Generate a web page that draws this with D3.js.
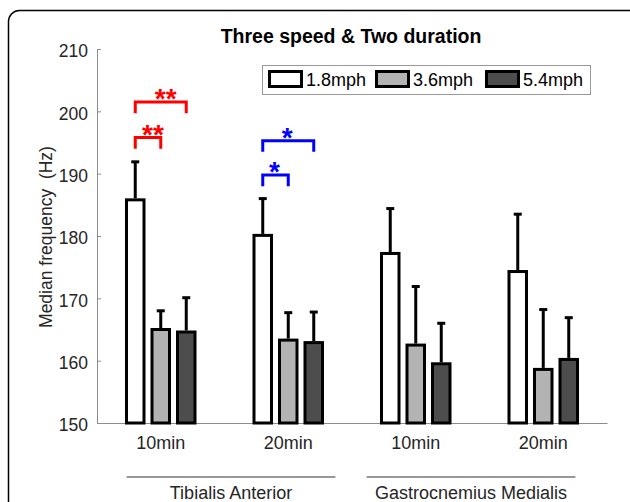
<!DOCTYPE html>
<html>
<head>
<meta charset="utf-8">
<script src="https://cdn.jsdelivr.net/npm/d3@7"></script>
<style>
  body { margin: 0; background: #fff; }
  text { font-family: "Liberation Sans", Arial, sans-serif; }
</style>
</head>
<body>
<svg id="chart" width="630" height="502"></svg>
<script>
const groups = ["TA-10", "TA-20", "GM-10", "GM-20"];
const groupLabels = ["10min", "20min", "10min", "20min"];
const muscles = ["Tibialis Anterior", "Gastrocnemius Medialis"];
const speeds = ["1.8mph", "3.6mph", "5.4mph"];
const colors = ["#ffffff", "#b3b3b3", "#4d4d4d"];

// median frequency (Hz) per group, per speed
const means = [
  [185.8, 165.0, 164.6],
  [180.1, 163.3, 162.9],
  [177.2, 162.5, 159.5],
  [174.3, 158.6, 160.2],
];
const errTops = [
  [191.9, 168.0, 170.1],
  [186.0, 167.7, 167.8],
  [184.4, 171.9, 166.0],
  [183.5, 168.2, 166.9],
];

// significance brackets: group index, from speed, to speed, level (Hz), label, color
const brackets = [
  { g: 0, from: 0, to: 1, level: 195.8, label: "**", color: "#ff0000" },
  { g: 0, from: 0, to: 2, level: 201.5, label: "**", color: "#ff0000" },
  { g: 1, from: 0, to: 1, level: 189.8, label: "*", color: "#0000ff" },
  { g: 1, from: 0, to: 2, level: 195.3, label: "*", color: "#0000ff" },
];
const yTicks = [150, 160, 170, 180, 190, 200, 210];

const svg = d3.select("#chart");

// outer frame
svg.append("rect")
  .attr("x", 8.5).attr("y", 10.5)
  .attr("width", 640).attr("height", 540)
  .attr("rx", 11)
  .attr("fill", "none")
  .attr("stroke", "#000")
  .attr("stroke-width", 1.5);

const x = d3.scaleBand().domain(groups).range([97, 607]);
const xSub = d3.scaleBand().domain(speeds).range([-34.25, 34.25])
  .paddingInner(0.3137).paddingOuter(0);
const y = d3.scaleLinear().domain([150, 210]).range([423, 49]);

const textColor = "#262626";
const axisColor = "#8c8c8c";

// y axis
const yAxis = svg.append("g")
  .attr("transform", "translate(97,0)")
  .call(d3.axisLeft(y).tickValues(yTicks).tickSizeInner(-4).tickSizeOuter(0).tickPadding(9));
yAxis.select(".domain").attr("stroke", axisColor);
yAxis.selectAll(".tick line").attr("stroke", axisColor);
yAxis.selectAll(".tick text")
  .attr("fill", textColor)
  .attr("font-size", 17.5)
  .attr("dy", "0.45em");

// x axis
const xAxis = svg.append("g")
  .attr("transform", "translate(0,423)")
  .call(d3.axisBottom(x).tickSize(0).tickPadding(13.5).tickFormat((d, i) => groupLabels[i]));
xAxis.select(".domain").attr("stroke", axisColor);
xAxis.selectAll(".tick text")
  .attr("fill", textColor)
  .attr("font-size", 18);

// bars
const data = [];
groups.forEach((g, gi) => {
  speeds.forEach((s, si) => {
    data.push({ g, s, si, v: means[gi][si], e: errTops[gi][si] });
  });
});

const barG = svg.append("g");
barG.selectAll("rect")
  .data(data)
  .join("rect")
  .attr("x", (d) => x(d.g) + x.bandwidth() / 2 + xSub(d.s))
  .attr("y", (d) => y(d.v))
  .attr("width", xSub.bandwidth())
  .attr("height", (d) => y(150) - y(d.v))
  .attr("fill", (d) => colors[d.si])
  .attr("stroke", "#000")
  .attr("stroke-width", 3);

const cx = (d) => x(d.g) + x.bandwidth() / 2 + xSub(d.s) + xSub.bandwidth() / 2;

barG.selectAll("line.err")
  .data(data)
  .join("line")
  .attr("class", "err")
  .attr("x1", cx).attr("x2", cx)
  .attr("y1", (d) => y(d.v) - 1.5)
  .attr("y2", (d) => y(d.e))
  .attr("stroke", "#000")
  .attr("stroke-width", 3);

barG.selectAll("line.cap")
  .data(data)
  .join("line")
  .attr("class", "cap")
  .attr("x1", (d) => cx(d) - 4).attr("x2", (d) => cx(d) + 4)
  .attr("y1", (d) => y(d.e)).attr("y2", (d) => y(d.e))
  .attr("stroke", "#000")
  .attr("stroke-width", 3);

// significance brackets
const subCenter = (gi, si) =>
  x(groups[gi]) + x.bandwidth() / 2 + xSub(speeds[si]) + xSub.bandwidth() / 2;

const br = svg.append("g").selectAll("g").data(brackets).join("g");
br.append("path")
  .attr("fill", "none")
  .attr("stroke", (d) => d.color)
  .attr("stroke-width", 3)
  .attr("d", (d) => {
    const x1 = subCenter(d.g, d.from), x2 = subCenter(d.g, d.to);
    const top = y(d.level), bot = y(d.level - 1.8);
    return `M${x1},${bot}V${top}H${x2}V${bot}`;
  });
br.append("text")
  .attr("x", (d) => (subCenter(d.g, d.from) + subCenter(d.g, d.to)) / 2 + (d.label.length > 1 ? 5 : -1))
  .attr("y", (d) => y(d.level) + 6)
  .attr("text-anchor", "middle")
  .attr("font-size", 28)
  .attr("font-weight", "bold")
  .attr("fill", (d) => d.color)
  .text((d) => d.label);

// muscle group lines and labels
const m = d3.scaleBand().domain(muscles).range([111, 591]).paddingInner(0.13).paddingOuter(0.065);
const mg = svg.append("g").selectAll("g").data(muscles).join("g");
mg.append("line")
  .attr("x1", (d) => m(d)).attr("x2", (d) => m(d) + m.bandwidth())
  .attr("y1", 477).attr("y2", 477)
  .attr("stroke", "#333")
  .attr("stroke-width", 1.2);
mg.append("text")
  .attr("x", (d) => m(d) + m.bandwidth() / 2)
  .attr("y", 499)
  .attr("text-anchor", "middle")
  .attr("font-size", 18)
  .attr("fill", textColor)
  .text((d) => d);

// y label
svg.append("text")
  .attr("transform", "translate(52,237) rotate(-90)")
  .attr("text-anchor", "middle")
  .attr("font-size", 17.5)
  .attr("fill", textColor)
  .style("white-space", "pre")
  .text("Median frequency  (Hz)");

// title
svg.append("text")
  .attr("x", 351)
  .attr("y", 42.5)
  .attr("text-anchor", "middle")
  .attr("font-size", 19.5)
  .attr("font-weight", "bold")
  .attr("fill", "#000")
  .text("Three speed & Two duration");

// legend
const legend = svg.append("g");
legend.append("rect")
  .attr("x", 262.5).attr("y", 65.5)
  .attr("width", 328).attr("height", 29)
  .attr("fill", "#fff")
  .attr("stroke", "#999")
  .attr("stroke-width", 1);
const li = legend.selectAll("g.item").data(speeds).join("g")
  .attr("class", "item")
  .attr("transform", (d, i) => `translate(${[268, 375, 485][i]},70)`);
li.append("rect")
  .attr("x", 1.5).attr("y", 1.5)
  .attr("width", 32).attr("height", 15)
  .attr("fill", (d, i) => colors[i])
  .attr("stroke", "#000")
  .attr("stroke-width", 3);
li.append("text")
  .attr("x", 38).attr("y", 16)
  .attr("font-size", 18)
  .attr("fill", "#000")
  .text((d) => d);
</script>
</body>
</html>
